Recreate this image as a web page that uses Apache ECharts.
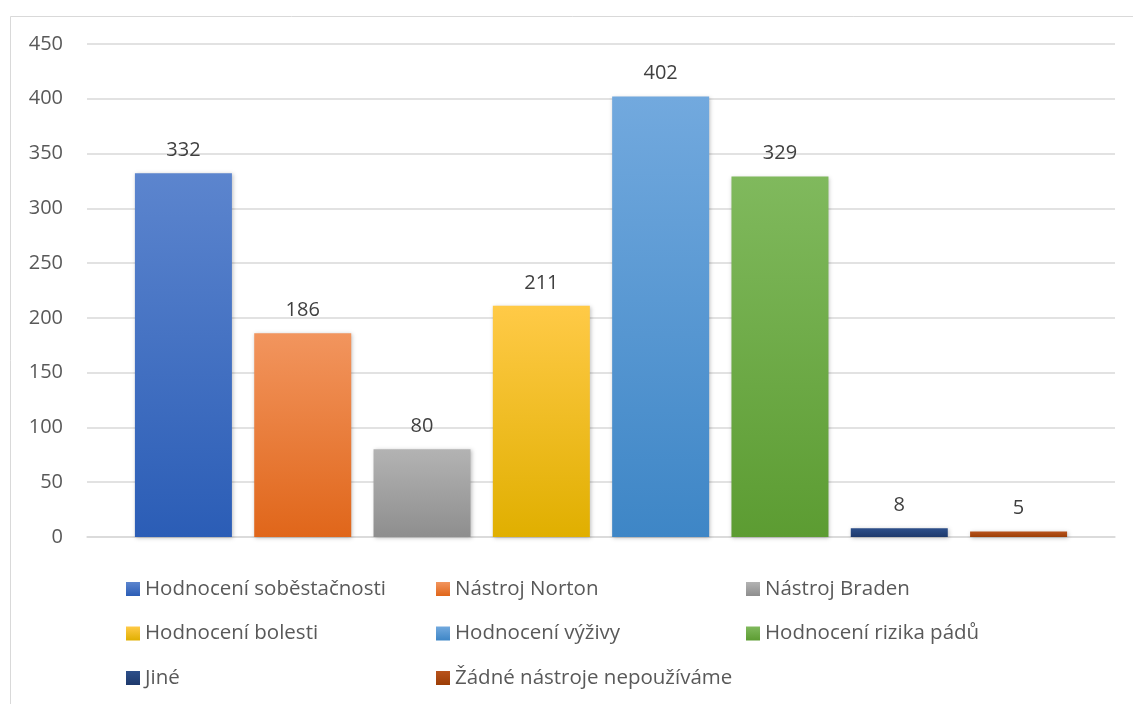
<!DOCTYPE html>
<html>
<head>
<meta charset="utf-8">
<script src="https://cdn.jsdelivr.net/npm/echarts@6/dist/echarts.min.js"></script>
<style>
  html, body { margin: 0; padding: 0; background: #fff; }
  #main { width: 1133px; height: 704px; }
</style>
</head>
<body>
<div id="main"></div>
<script>
var seriesNames = ['Hodnocení soběstačnosti', 'Nástroj Norton', 'Nástroj Braden',
  'Hodnocení bolesti', 'Hodnocení výživy', 'Hodnocení rizika pádů',
  'Jiné', 'Žádné nástroje nepoužíváme'];
var seriesValues = [332, 186, 80, 211, 402, 329, 8, 5];
// top / bottom colours of the gradient fill
var topColors = ['#5C85CE', '#F2955E', '#B3B3B3', '#FFCA47', '#72A9DE', '#80B95D', '#2D4F8A', '#B8531C'];
var bottomColors = ['#2B5DB6', '#E0661A', '#8E8E8E', '#E0AF00', '#3E86C6', '#5C9C32', '#1E396C', '#9C3E06'];
var yTicks = [0, 50, 100, 150, 200, 250, 300, 350, 400, 450];

var font = '"Open Sans", Lato, sans-serif';

var series = [];
for (var i = 0; i < seriesNames.length; i++) {
  series.push({
    name: seriesNames[i],
    type: 'bar',
    barWidth: 97,
    barGap: '23%',
    data: [seriesValues[i]],
    itemStyle: {
      color: new echarts.graphic.LinearGradient(0, 0, 0, 1, [
        { offset: 0, color: topColors[i] },
        { offset: 1, color: bottomColors[i] }
      ]),
      shadowBlur: 4,
      shadowColor: 'rgba(0,0,0,0.25)',
      shadowOffsetX: 1,
      shadowOffsetY: 1
    },
    label: {
      show: true,
      position: 'top',
      distance: 13,
      color: '#404040',
      fontSize: 20,
      fontFamily: font
    }
  });
}

var legendStyle = {
  orient: 'vertical',
  top: 573,
  itemWidth: 14,
  itemHeight: 14,
  itemGap: 22.5,
  icon: 'rect',
  textStyle: { color: '#595959', fontSize: 20.5, fontFamily: font, lineHeight: 22 }
};
var legends = [];
var colLeft = [121, 431, 741];
for (var c = 0; c < 3; c++) {
  var names = [];
  for (var k = c; k < seriesNames.length; k += 3) names.push(seriesNames[k]);
  legends.push(Object.assign({}, legendStyle, { left: colLeft[c], data: names }));
}

var option = {
  animation: false,
  backgroundColor: '#fff',
  graphic: [{
    type: 'rect',
    shape: { x: 10.5, y: 16.5, width: 1200, height: 800 },
    style: { fill: 'none', stroke: '#D9D9D9', lineWidth: 1 }
  }],
  legend: legends,
  grid: { left: 87, right: 18, top: 44, bottom: 167 },
  xAxis: {
    type: 'category',
    data: [''],
    axisLine: { show: true, lineStyle: { color: '#D9D9D9', width: 1.5 } },
    axisTick: { show: false },
    axisLabel: { show: false }
  },
  yAxis: {
    type: 'value',
    min: yTicks[0],
    max: yTicks[yTicks.length - 1],
    interval: 50,
    axisLine: { show: false },
    axisTick: { show: false },
    axisLabel: { color: '#595959', fontSize: 20, fontFamily: font, margin: 24 },
    splitLine: { lineStyle: { color: '#D9D9D9', width: 1.5 } }
  },
  series: series
};

var myChart = echarts.init(document.getElementById('main'));
myChart.setOption(option);
</script>
</body>
</html>
